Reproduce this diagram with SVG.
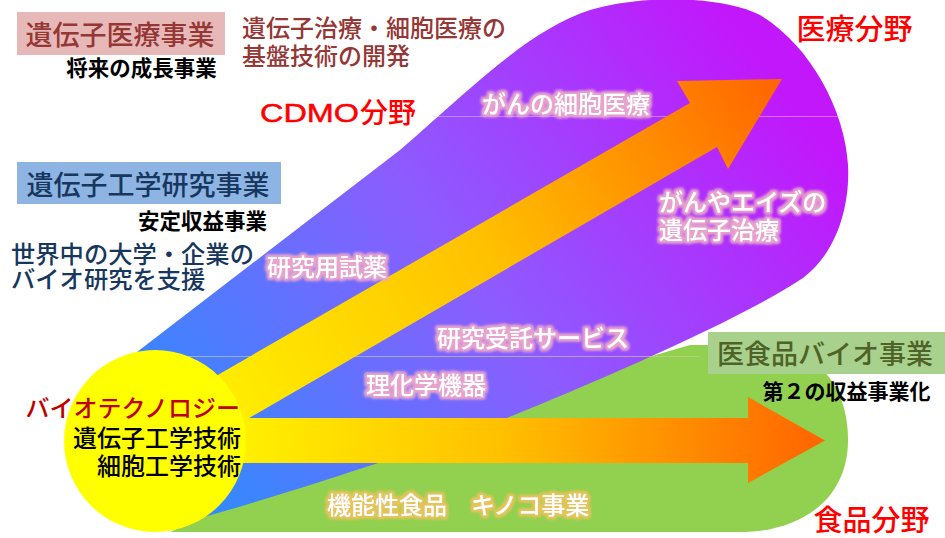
<svg xmlns="http://www.w3.org/2000/svg" width="945" height="538" viewBox="0 0 945 538">
<style>
  text { font-family: "Noto Sans CJK JP", "Noto Sans", sans-serif; }
  .lbl { font-weight: 500; }
  .blk { fill: #000; font-weight: 700; }
  .glow { fill: #fff; font-weight: 500; }
  .red { fill: #ff0000; font-weight: 500; }
  .brn { fill: #953735; font-weight: 500; }
  .navy { fill: #17375e; font-weight: 500; }
  .latin { font-family: "Liberation Sans", Arial, sans-serif; }
</style>
<defs>
  <linearGradient id="gPurple" gradientUnits="userSpaceOnUse" x1="180" y1="500" x2="770" y2="60">
    <stop offset="0" stop-color="#2d8cff"/>
    <stop offset="0.5" stop-color="#8c5cff"/>
    <stop offset="1" stop-color="#c216fb"/>
  </linearGradient>
  <linearGradient id="gDiag" gradientUnits="userSpaceOnUse" x1="200" y1="420" x2="782" y2="79">
    <stop offset="0" stop-color="#fff200"/>
    <stop offset="0.5" stop-color="#ffc000"/>
    <stop offset="1" stop-color="#ff6400"/>
  </linearGradient>
  <linearGradient id="gHorz" gradientUnits="userSpaceOnUse" x1="240" y1="0" x2="825" y2="0">
    <stop offset="0" stop-color="#fff000"/>
    <stop offset="0.45" stop-color="#ffc000"/>
    <stop offset="1" stop-color="#ff6400"/>
  </linearGradient>
  <filter id="glowPink" x="-10%" y="-40%" width="120%" height="180%">
    <feMorphology in="SourceAlpha" operator="dilate" radius="1.5" result="d"/>
    <feGaussianBlur in="d" stdDeviation="1.6" result="b"/>
    <feFlood flood-color="#e8a4cc"/>
    <feComposite in2="b" operator="in" result="g"/>
    <feMerge><feMergeNode in="g"/><feMergeNode in="g"/><feMergeNode in="SourceGraphic"/></feMerge>
  </filter>
  <filter id="glowGold" x="-10%" y="-40%" width="120%" height="180%">
    <feMorphology in="SourceAlpha" operator="dilate" radius="1.5" result="d"/>
    <feGaussianBlur in="d" stdDeviation="1.6" result="b"/>
    <feFlood flood-color="#e6c45a"/>
    <feComposite in2="b" operator="in" result="g"/>
    <feMerge><feMergeNode in="g"/><feMergeNode in="g"/><feMergeNode in="SourceGraphic"/></feMerge>
  </filter>
</defs>

<g id="food-field-area">
  <path d="M 170 532 L 740 532 C 800 532 848 500 848 440 C 848 380 810 345 760 345 L 690 345 L 500 400 L 200 518 Z" fill="#92d050"/>
</g>
<g id="medical-field-area">
  <path d="M 180 524 C 300 490 420 450 507 418 C 600 380 740 320 803 278 C 840 250 850 200 848 165 C 845 110 810 45 760 15 C 720 -5 640 -5 590 10 C 530 30 480 80 400 150 L 137 352 C 120 370 120 480 180 524 Z" fill="url(#gPurple)"/>
</g>
<g id="guide-lines" stroke-width="1">
  <line x1="432" y1="116.5" x2="842" y2="116.5" stroke="#f0d0f4" stroke-opacity="0.45"/>
  <line x1="170" y1="356.5" x2="700" y2="356.5" stroke="#c8d0a0" stroke-opacity="0.6"/>
</g>

<g id="connectors">
  <polygon id="arrow-medical" points="150,414 690,103 677,81 782,79 728,169 717,147 180,458" fill="url(#gDiag)"/>
  <polygon id="arrow-food" points="150,418 748,418 748,397 825,440.5 748,483 748,463 150,463" fill="url(#gHorz)"/>
</g>

<g id="biotech-core">
  <circle cx="155" cy="441" r="91" fill="#ffff00"/>
  <text x="240" y="417" text-anchor="end" font-size="24" fill="#c00000" class="lbl">バイオテクノロジー</text>
  <text x="241" y="447" text-anchor="end" font-size="24" class="lbl" fill="#000">遺伝子工学技術</text>
  <text x="241" y="475" text-anchor="end" font-size="24" class="lbl" fill="#000">細胞工学技術</text>
</g>

<g id="gene-medical-business">
  <rect x="17" y="12" width="208" height="43" fill="#e6b9b8"/>
  <text x="120" y="45" text-anchor="middle" font-size="27" class="brn">遺伝子医療事業</text>
  <text x="141.5" y="76" text-anchor="middle" font-size="21.5" class="blk">将来の成長事業</text>
</g>
<g id="gene-medical-desc">
  <text x="242" y="37" font-size="24" class="brn">遺伝子治療・細胞医療の</text>
  <text x="242" y="65" font-size="24" class="brn">基盤技術の開発</text>
</g>
<g id="cdmo-field">
  <text x="260" y="122" font-size="26" class="latin" fill="#ff0000" stroke="#ff0000" stroke-width="0.5" textLength="99" lengthAdjust="spacingAndGlyphs">CDMO</text>
  <text x="360" y="123" font-size="28" class="red">分野</text>
</g>
<g id="medical-field">
  <text x="854.5" y="40" text-anchor="middle" font-size="29" class="red">医療分野</text>
</g>
<g id="cancer-cell-therapy">
  <text x="566" y="113" text-anchor="middle" font-size="24" class="glow" filter="url(#glowPink)">がんの細胞医療</text>
</g>
<g id="gene-therapy">
  <text x="659" y="211" font-size="24" class="glow" filter="url(#glowPink)">がんやエイズの</text>
  <text x="659" y="239" font-size="24" class="glow" filter="url(#glowPink)">遺伝子治療</text>
</g>

<g id="gene-research-business">
  <rect x="17" y="162" width="264" height="42" fill="#8db4e2"/>
  <text x="148" y="195" text-anchor="middle" font-size="27" class="navy">遺伝子工学研究事業</text>
  <text x="202.5" y="229" text-anchor="middle" font-size="21.5" class="blk">安定収益事業</text>
</g>
<g id="gene-research-desc">
  <text x="11" y="263" font-size="24.3" class="navy">世界中の大学・企業の</text>
  <text x="11" y="288" font-size="24.3" class="navy">バイオ研究を支援</text>
</g>
<g id="research-reagents">
  <text x="327" y="276" text-anchor="middle" font-size="24" class="glow" filter="url(#glowPink)">研究用試薬</text>
</g>
<g id="contract-research">
  <text x="533" y="347" text-anchor="middle" font-size="24" class="glow" filter="url(#glowPink)">研究受託サービス</text>
</g>
<g id="lab-equipment">
  <text x="426" y="394" text-anchor="middle" font-size="24" class="glow" filter="url(#glowPink)">理化学機器</text>
</g>

<g id="food-bio-business">
  <rect x="708" y="332" width="237" height="42" fill="#a9d18e"/>
  <text x="825" y="364" text-anchor="middle" font-size="27" class="lbl" fill="#4f6228">医食品バイオ事業</text>
  <text x="846.5" y="399" text-anchor="middle" font-size="21" class="blk">第２の収益事業化</text>
</g>
<g id="functional-food">
  <text x="327" y="514" font-size="24" class="glow" filter="url(#glowGold)">機能性食品　キノコ事業</text>
</g>
<g id="food-field">
  <text x="871.5" y="531" text-anchor="middle" font-size="29" class="red">食品分野</text>
</g>
</svg>
